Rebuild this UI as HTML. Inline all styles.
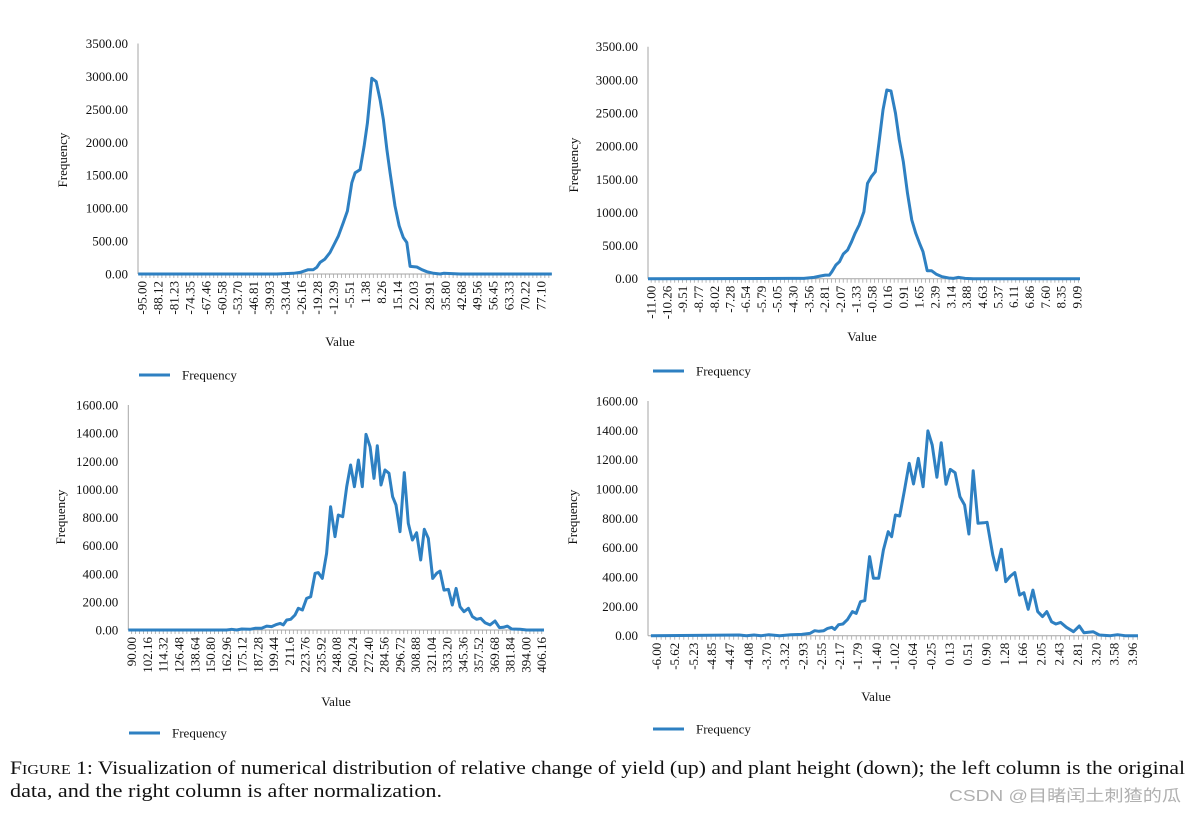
<!DOCTYPE html>
<html><head><meta charset="utf-8"><style>
html,body{margin:0;padding:0;background:#fff;}
svg{display:block;font-family:"Liberation Serif",serif;}
</style></head><body>
<svg id="fig" width="1196" height="814" viewBox="0 0 1196 814">
<text x="10" y="774" font-size="19" fill="#111" textLength="1175" lengthAdjust="spacingAndGlyphs"><tspan font-size="19">F</tspan><tspan font-size="14">IGURE</tspan> 1: Visualization of numerical distribution of relative change of yield (up) and plant height (down); the left column is the original</text>
<text x="10" y="797" font-size="19" fill="#111" textLength="432" lengthAdjust="spacingAndGlyphs">data, and the right column is after normalization.</text>
<text x="949" y="801" font-size="16" fill="#b0b0b0" textLength="232" lengthAdjust="spacingAndGlyphs" font-family="Liberation Sans, 'Noto Sans CJK SC', sans-serif">CSDN @目睹闰土刺猹的瓜</text>
</svg>
<script>
// Top-left: yield, original
const tlX = [-96.6,-36.9,-29.7,-26.8,-23.3,-21.1,-19.6,-18.2,-16.1,-13.9,-11.7,-10.3,-8.2,-6.4,-4.5,-3.1,-0.95,0.8,2.2,4.1,6.0,7.7,9.1,10.6,12.0,14.1,15.9,17.7,19.2,20.6,23.5,25.7,27.8,30.7,33.6,35.0,42.2,81.7];
const tlY = [0,0,10,25,65,65,101,176,227,327,478,579,780,957,1385,1536,1586,1939,2291,2971,2921,2644,2342,1888,1536,1032,730,554,478,116,106,65,35,10,0,10,0,0];
const tlTicks = ["-95.00","-88.12","-81.23","-74.35","-67.46","-60.58","-53.70","-46.81","-39.93","-33.04","-26.16","-19.28","-12.39","-5.51","1.38","8.26","15.14","22.03","28.91","35.80","42.68","49.56","56.45","63.33","70.22","77.10"];
const tlYTicks = [0,500,1000,1500,2000,2500,3000,3500];
// Top-right: yield, normalized
const trX = [-11.15,-4.41,-3.79,-3.32,-3.01,-2.78,-2.59,-2.47,-2.28,-2.11,-1.93,-1.73,-1.54,-1.38,-1.18,-0.96,-0.79,-0.61,-0.42,-0.25,-0.06,0.12,0.32,0.53,0.71,0.90,1.10,1.30,1.49,1.67,1.83,2.03,2.23,2.45,2.73,3.04,3.27,3.50,3.81,4.20,9.24];
const trY = [0,5,5,20,40,55,55,105,206,256,372,433,558,684,810,1011,1438,1539,1614,2042,2545,2847,2832,2495,2092,1766,1288,885,684,533,407,121,121,70,30,10,5,20,5,0,0];
const trTicks = ["-11.00","-10.26","-9.51","-8.77","-8.02","-7.28","-6.54","-5.79","-5.05","-4.30","-3.56","-2.81","-2.07","-1.33","-0.58","0.16","0.91","1.65","2.39","3.14","3.88","4.63","5.37","6.11","6.86","7.60","8.35","9.09"];
const trYTicks = [0,500,1000,1500,2000,2500,3000,3500];
// Bottom-left: plant height, original
const blX = [87.4,163.2,167.1,171,174.8,181.2,185.1,190.2,194.1,197.9,201.8,204.4,206.9,209.5,212.6,215.9,218.5,221.6,224.9,228.0,231.4,233.9,237.0,240.3,243.4,246.8,249.3,252.7,255.8,258.8,261.7,264.8,267.8,270.7,273.8,276.8,279.4,282.2,285.3,288.4,291.2,293.8,296.9,300.2,303.3,306.4,309.7,312.8,315.6,318.7,322.1,325.2,327.7,330.8,334.2,337.2,340.1,343.1,346.2,349.6,352.7,356.0,359.1,362.4,366.3,370.1,373.5,376.6,379.7,383.0,389.5,394.5,407.9];
const blY = [0,0,5,0,7,5,12,12,28,24,40,47,36,71,76,107,154,142,225,237,403,408,367,545,877,664,818,806,1019,1173,1019,1209,1019,1391,1303,1078,1310,1031,1138,1114,948,889,699,1119,758,640,692,498,716,652,367,403,419,284,289,178,296,166,130,154,95,76,83,52,36,64,17,19,28,7,5,0,0];
const blTicks = ["90.00","102.16","114.32","126.48","138.64","150.80","162.96","175.12","187.28","199.44","211.6","223.76","235.92","248.08","260.24","272.40","284.56","296.72","308.88","321.04","333.20","345.36","357.52","369.68","381.84","394.00","406.16"];
const blYTicks = [0,200,400,600,800,1000,1200,1400,1600];
// Bottom-right: plant height, normalized
const brX = [-6.12,-4.27,-4.12,-3.96,-3.81,-3.65,-3.42,-3.19,-2.96,-2.79,-2.69,-2.60,-2.50,-2.42,-2.33,-2.27,-2.19,-2.10,-2.0,-1.90,-1.82,-1.73,-1.64,-1.54,-1.46,-1.35,-1.25,-1.15,-1.08,-1.0,-0.91,-0.81,-0.71,-0.62,-0.52,-0.42,-0.32,-0.23,-0.13,-0.04,0.06,0.15,0.25,0.35,0.45,0.54,0.63,0.73,0.85,0.92,1.04,1.12,1.22,1.31,1.41,1.50,1.60,1.69,1.78,1.88,1.98,2.08,2.17,2.27,2.36,2.46,2.58,2.73,2.85,2.95,3.14,3.27,3.50,3.65,3.81,4.08];
const brY = [0,5,0,5,0,7,0,7,9,16,34,30,34,50,57,43,75,80,111,164,152,232,239,539,391,391,584,709,675,823,816,993,1175,1034,1209,1016,1396,1300,1080,1316,1032,1134,1111,948,891,693,1125,766,770,773,550,448,589,368,407,430,277,293,180,311,164,130,164,95,80,91,57,27,66,20,27,5,0,7,0,0];
const brTicks = ["-6.00","-5.62","-5.23","-4.85","-4.47","-4.08","-3.70","-3.32","-2.93","-2.55","-2.17","-1.79","-1.40","-1.02","-0.64","-0.25","0.13","0.51","0.90","1.28","1.66","2.05","2.43","2.81","3.20","3.58","3.96"];
const brYTicks = [0,200,400,600,800,1000,1200,1400,1600];

const NS = "http://www.w3.org/2000/svg";
const svg = document.getElementById('fig');
function mk(tag, attrs, parent, txt){
  const e = document.createElementNS(NS, tag);
  for (const k in attrs) e.setAttribute(k, attrs[k]);
  if (txt !== undefined) e.textContent = txt;
  parent.appendChild(e);
  return e;
}
function chart(name, cfg, xs, ys, ticks, yTicks){
  const g = mk('g', {}, svg);
  
  
  const xMin = cfg.xMin, xMax = cfg.xMax, yMax = yTicks[yTicks.length-1];
  const sx = v => cfg.x0 + (v - xMin) / (xMax - xMin) * (cfg.x1 - cfg.x0);
  const sy = v => cfg.y0 - v / yMax * (cfg.y0 - cfg.yTop);
  const ya = mk('line', {x1:cfg.x0, y1:cfg.yTop, x2:cfg.x0, y2:cfg.y0, stroke:'#a6a6a6', 'stroke-width':1}, g);
  
  
  yTicks.forEach(t => {
    const lb = mk('text', {x:cfg.x0-10, y:sy(t)+4.5, 'font-size':13, 'text-anchor':'end', fill:'#111'}, g, t.toFixed(2));
    
    
  });
  const xa = mk('line', {x1:cfg.x0, y1:cfg.y0, x2:cfg.x1, y2:cfg.y0, stroke:'#a6a6a6', 'stroke-width':1}, g);
  
  
  const step = (parseFloat(ticks[1]) - parseFloat(ticks[0])) / 4;
  for (let v = parseFloat(ticks[0]); sx(v) <= cfg.x1 + 0.5; v += step) {
    mk('line', {x1:sx(v), y1:cfg.y0, x2:sx(v), y2:cfg.y0+4, stroke:'#a6a6a6', 'stroke-width':0.8}, g);
  }
  ticks.forEach(t => {
    const px = sx(parseFloat(t));
    const lb = mk('text', {x:0, y:0, 'font-size':13, 'text-anchor':'end', fill:'#111',
      transform:`translate(${px+4.5},${cfg.y0+7}) rotate(-90)`}, g, t);
    
    
  });
  const d = xs.map((v,i) => (i?'L':'M') + sx(v).toFixed(1) + ',' + sy(ys[i]).toFixed(1)).join(' ');
  const p = mk('path', {d:d, fill:'none', stroke:'#2e80c2', 'stroke-width':3, 'stroke-linejoin':'round'}, g);
  
  
  const xt = mk('text', {x:cfg.vx, y:cfg.vy, 'font-size':13, 'text-anchor':'middle', fill:'#111'}, g, 'Value');
  
  
  const yt = mk('text', {x:0, y:0, 'font-size':13, 'text-anchor':'middle', fill:'#111',
    transform:`translate(${cfg.fx},${cfg.fy}) rotate(-90)`}, g, 'Frequency');
  
  
  const lg = mk('g', {}, g);
  
  
  mk('line', {x1:cfg.lx, y1:cfg.ly, x2:cfg.lx+31, y2:cfg.ly, stroke:'#2e80c2', 'stroke-width':3}, lg);
  mk('text', {x:cfg.lx+43, y:cfg.ly+4.5, 'font-size':13, fill:'#111'}, lg, 'Frequency');
}
chart('chart-yield-original', {x0:138, x1:552, xMin:-96.7, xMax:81.8, y0:274, yTop:43.5, vx:340, vy:346, fx:67, fy:160, lx:139, ly:375}, tlX, tlY, tlTicks, tlYTicks);
chart('chart-yield-normalized', {x0:648, x1:1080, xMin:-11.15, xMax:9.24, y0:278.7, yTop:46.7, vx:862, vy:341, fx:578, fy:165, lx:653, ly:371}, trX, trY, trTicks, trYTicks);
chart('chart-height-original', {x0:128.3, x1:544, xMin:87.4, xMax:407.9, y0:630, yTop:405, vx:336, vy:706, fx:65, fy:517, lx:129, ly:733}, blX, blY, blTicks, blYTicks);
chart('chart-height-normalized', {x0:648, x1:1138, xMin:-6.18, xMax:4.08, y0:635.7, yTop:401, vx:876, vy:701, fx:577, fy:517, lx:653, ly:729}, brX, brY, brTicks, brYTicks);
</script>
</body></html>
